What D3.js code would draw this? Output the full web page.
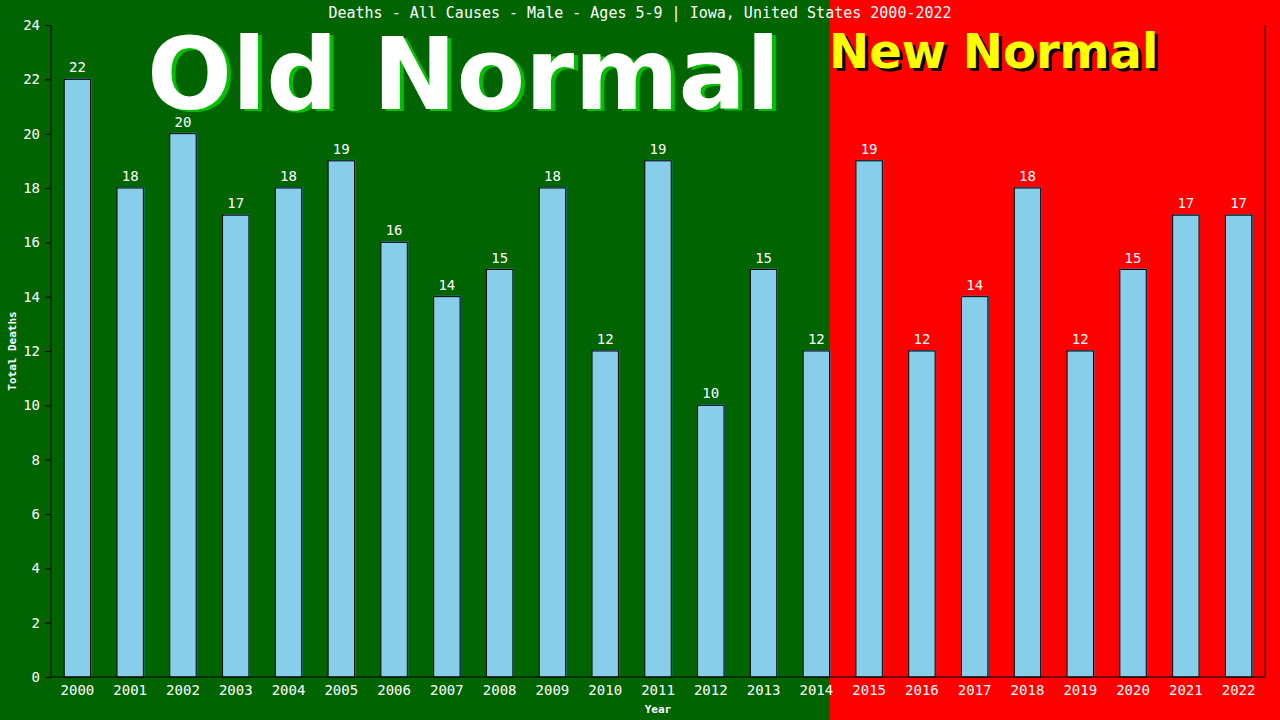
<!DOCTYPE html>
<html lang="en">
<head>
<meta charset="UTF-8">
<title>Deaths - All Causes - Male - Ages 5-9 | Iowa</title>
<style>
    body {
        margin: 0;
        padding: 0;
        background-color: #006400;
    }
    svg {
        display: block;
    }
    .mono {
        font-family: "DejaVu Sans Mono", monospace;
    }
</style>
</head>
<body>
<svg id="chart" width="1280" height="720"></svg>

<script src="https://d3js.org/d3.v7.min.js"></script>
<script>
    // 数据
    const years = ["2000", "2001", "2002", "2003", "2004", "2005", "2006", "2007", "2008", "2009", "2010", "2011",
                   "2012", "2013", "2014", "2015", "2016", "2017", "2018", "2019", "2020", "2021", "2022"];
    const deaths = [22, 18, 20, 17, 18, 19, 16, 14, 15, 18, 12, 19, 10, 15, 12, 19, 12, 14, 18, 12, 15, 17, 17];
    const yTicks = [0, 2, 4, 6, 8, 10, 12, 14, 16, 18, 20, 22, 24];
    const firstNewYear = "2015";
    const titleText = "Deaths - All Causes - Male - Ages 5-9 | Iowa, United States 2000-2022";

    const W = 1280, H = 720;
    const margin = { top: 25, right: 15, bottom: 43, left: 51 };

    const svg = d3.select("#chart");

    const xScale = d3.scaleBand()
        .domain(years)
        .range([margin.left, W - margin.right])
        .paddingInner(0.5)
        .paddingOuter(0.25);

    const yScale = d3.scaleLinear()
        .domain([0, 24])
        .range([H - margin.bottom, margin.top]);

    // 背景：旧常态绿色，新常态红色
    const lastOld = years[years.indexOf(firstNewYear) - 1];
    const splitX = xScale(lastOld) + xScale.bandwidth();
    svg.append("rect")
        .attr("x", 0).attr("y", 0)
        .attr("width", splitX).attr("height", H)
        .attr("fill", "#006400");
    svg.append("rect")
        .attr("x", splitX).attr("y", 0)
        .attr("width", W - splitX).attr("height", H)
        .attr("fill", "#ff0000");

    // 大字标签
    function bigText(str, x, y, size, fill, shadow, dx, dy) {
        const g = svg.append("g")
            .attr("font-family", "'DejaVu Sans', Verdana, sans-serif")
            .attr("font-weight", "bold")
            .attr("font-size", size);
        g.append("text").attr("x", x + dx).attr("y", y + dy).attr("fill", shadow).text(str);
        g.append("text").attr("x", x).attr("y", y).attr("fill", fill).text(str);
    }
    bigText("Old Normal", 147, 109, 100, "#ffffff", "#00c000", 4, 2);
    bigText("New Normal", 829, 68, 48, "#ffff00", "#000000", 3, 3);

    // 标题
    svg.append("text")
        .attr("class", "mono")
        .attr("x", 640).attr("y", 18)
        .attr("text-anchor", "middle")
        .attr("font-size", 15)
        .attr("fill", "#ffffff")
        .text(titleText);

    // 柱子（先画阴影再画主体）
    const bw = xScale.bandwidth();
    svg.append("g").selectAll("rect")
        .data(deaths)
        .join("rect")
        .attr("x", (d, i) => xScale(years[i]) + 1)
        .attr("y", d => yScale(d) - 1)
        .attr("width", bw)
        .attr("height", d => yScale(0) - yScale(d) + 1)
        .attr("fill", "#4682b4");

    svg.append("g").selectAll("rect")
        .data(deaths)
        .join("rect")
        .attr("x", (d, i) => xScale(years[i]))
        .attr("y", d => yScale(d))
        .attr("width", bw)
        .attr("height", d => yScale(0) - yScale(d))
        .attr("fill", "#87ceeb")
        .attr("stroke", "#000000")
        .attr("stroke-width", 1);

    // 数值标签
    svg.append("g").selectAll("text")
        .data(deaths)
        .join("text")
        .attr("class", "mono")
        .attr("x", (d, i) => xScale(years[i]) + bw / 2)
        .attr("y", d => yScale(d) - 7)
        .attr("text-anchor", "middle")
        .attr("font-size", 14)
        .attr("fill", "#ffffff")
        .text(d => d);

    // 坐标轴
    const yAxis = d3.axisLeft(yScale)
        .tickValues(yTicks)
        .tickSize(6)
        .tickPadding(5);
    const gy = svg.append("g")
        .attr("transform", `translate(${margin.left}, 0)`)
        .call(yAxis);
    gy.select(".domain").attr("stroke", "#000").attr("d", `M0,${yScale(0)}V${yScale(24)}`);
    gy.selectAll(".tick line").attr("stroke", "#000");
    gy.selectAll(".tick text")
        .attr("class", "mono")
        .attr("font-size", 14)
        .attr("fill", "#ffffff");

    const xAxis = d3.axisBottom(xScale)
        .tickSize(0)
        .tickPadding(8);
    const gx = svg.append("g")
        .attr("transform", `translate(0, ${yScale(0)})`)
        .call(xAxis);
    gx.select(".domain").attr("stroke", "#000").attr("d", `M${margin.left},0H${W - margin.right}`);
    gx.selectAll(".tick text")
        .attr("class", "mono")
        .attr("font-size", 14)
        .attr("fill", "#ffffff");

    // 右边框
    svg.append("line")
        .attr("x1", W - margin.right).attr("x2", W - margin.right)
        .attr("y1", yScale(0)).attr("y2", yScale(24))
        .attr("stroke", "#000");

    // 轴标题
    svg.append("text")
        .attr("class", "mono")
        .attr("x", (margin.left + W - margin.right) / 2)
        .attr("y", 713)
        .attr("text-anchor", "middle")
        .attr("font-size", 11)
        .attr("font-weight", "bold")
        .attr("fill", "#ffffff")
        .text("Year");

    svg.append("text")
        .attr("class", "mono")
        .attr("transform", `translate(16, ${(yScale(0) + yScale(24)) / 2}) rotate(-90)`)
        .attr("text-anchor", "middle")
        .attr("font-size", 11)
        .attr("font-weight", "bold")
        .attr("fill", "#ffffff")
        .text("Total Deaths");
</script>
</body>
</html>
